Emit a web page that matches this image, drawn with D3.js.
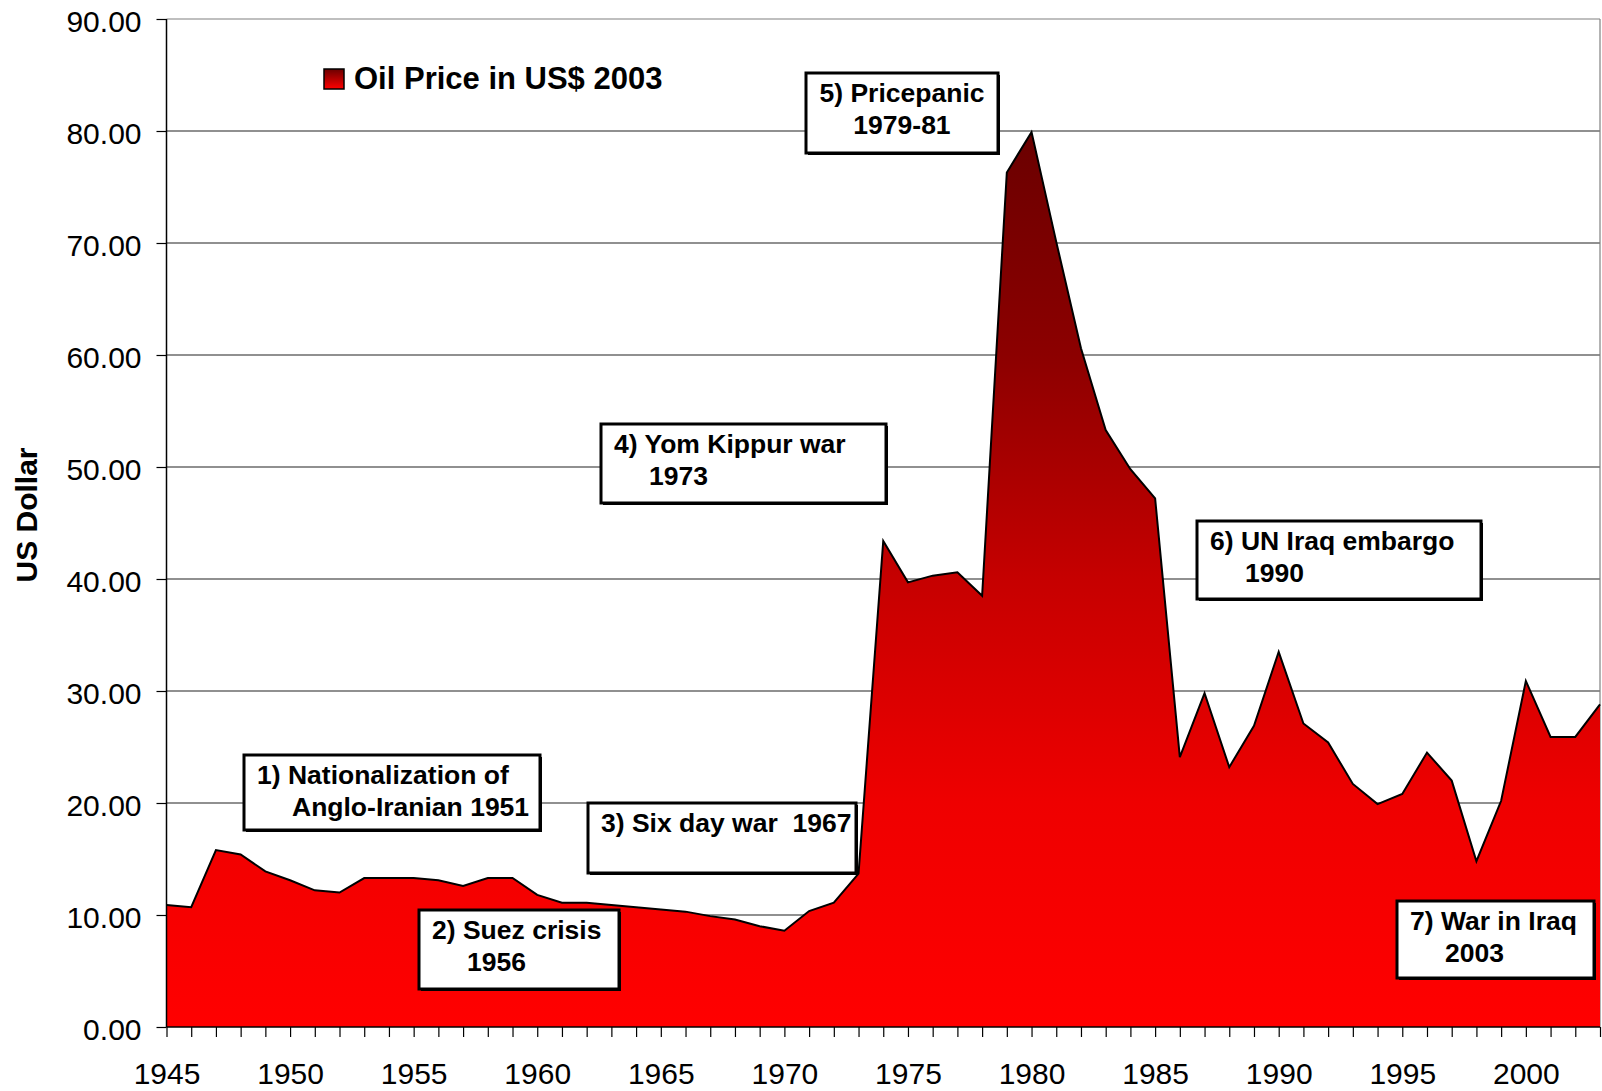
<!DOCTYPE html>
<html>
<head>
<meta charset="utf-8">
<script src="https://cdn.jsdelivr.net/npm/d3@7"></script>
<style>
  body { margin: 0; background: #fff; }
  svg { display: block; font-family: "Liberation Sans", Arial, sans-serif; }
  .note text { white-space: pre; }
</style>
</head>
<body>
<div id="chart"></div>
<script>
// oil price in 2003 US dollars, one value per year
var years = d3.range(1945, 2004);
var prices = [
  10.9, 10.7, 15.8, 15.4, 13.9, 13.1, 12.2, 12.0, 13.3, 13.3,
  13.3, 13.1, 12.6, 13.3, 13.3, 11.8, 11.1, 11.1, 10.9, 10.7,
  10.5, 10.3, 9.9, 9.6, 9.0, 8.6, 10.35, 11.1, 13.7, 43.4,
  39.7, 40.3, 40.6, 38.5, 76.3, 79.9, 70.1, 60.6, 53.3, 49.8,
  47.2, 24.1, 29.8, 23.2, 26.9, 33.5, 27.1, 25.4, 21.7, 19.9,
  20.8, 24.5, 22.0, 14.8, 20.2, 30.9, 25.9, 25.9, 28.8
];
var yTicks = [0, 10, 20, 30, 40, 50, 60, 70, 80, 90];
var seriesName = "Oil Price in US$ 2003";
var yTitle = "US Dollar";

var events = [
  ["1) Nationalization of", "Anglo-Iranian 1951"],
  ["2) Suez crisis", "1956"],
  ["3) Six day war  1967"],
  ["4) Yom Kippur war", "1973"],
  ["5) Pricepanic", "1979-81"],
  ["6) UN Iraq embargo", "1990"],
  ["7) War in Iraq", "2003"]
];

// where each text box sits on the page
var noteBoxes = [
  {x: 244, y: 755, w: 296, h: 75},
  {x: 419, y: 910, w: 200, h: 79},
  {x: 588, y: 803, w: 268, h: 70},
  {x: 601, y: 424, w: 285, h: 79},
  {x: 806, y: 73, w: 192, h: 80, center: true},
  {x: 1197, y: 521, w: 284, h: 78},
  {x: 1397, y: 901, w: 197, h: 77}
];

var svgWidth = 1602;
var svgHeight = 1091;

var plot = {left: 166.5, right: 1600, top: 19, bottom: 1027};

var svg = d3.select("#chart")
  .append("svg")
  .attr("width", svgWidth)
  .attr("height", svgHeight);

var x = d3.scaleLinear()
  .domain([1945, 2003])
  .range([plot.left, plot.right]);

var y = d3.scaleLinear()
  .domain([0, 90])
  .range([plot.bottom, plot.top]);

var data = years.map(function(yr, i) { return {year: yr, price: prices[i]}; });

// fill gradient, dark at the top, bright red near the axis
var defs = svg.append("defs");
var grad = defs.append("linearGradient")
  .attr("id", "oilFill")
  .attr("gradientUnits", "userSpaceOnUse")
  .attr("x1", 0).attr("x2", 0)
  .attr("y1", y(0)).attr("y2", y(80));
grad.append("stop").attr("offset", "0").attr("stop-color", "#ff0000");
grad.append("stop").attr("offset", "0.25").attr("stop-color", "#ef0000");
grad.append("stop").attr("offset", "0.5").attr("stop-color", "#c60000");
grad.append("stop").attr("offset", "0.75").attr("stop-color", "#8c0000");
grad.append("stop").attr("offset", "1").attr("stop-color", "#6a0000");

var legGrad = defs.append("linearGradient")
  .attr("id", "legFill")
  .attr("x1", 0).attr("x2", 0).attr("y1", 0).attr("y2", 1);
legGrad.append("stop").attr("offset", "0").attr("stop-color", "#6a0000");
legGrad.append("stop").attr("offset", "1").attr("stop-color", "#ff0000");

// gridlines
svg.append("g")
  .selectAll("line")
  .data(yTicks.filter(function(t) { return t > 0; }))
  .enter()
  .append("line")
  .attr("x1", plot.left)
  .attr("x2", plot.right)
  .attr("y1", function(d) { return y(d); })
  .attr("y2", function(d) { return y(d); })
  .attr("stroke", function(d) { return d === 90 ? "#808080" : "#222"; })
  .attr("stroke-width", 1.2);

// right border of the plot area
svg.append("line")
  .attr("x1", plot.right).attr("x2", plot.right)
  .attr("y1", plot.top).attr("y2", plot.bottom)
  .attr("stroke", "#808080")
  .attr("stroke-width", 1.2);

var area = d3.area()
  .x(function(d) { return x(d.year); })
  .y0(y(0))
  .y1(function(d) { return y(d.price); });

var line = d3.line()
  .x(function(d) { return x(d.year); })
  .y(function(d) { return y(d.price); });

svg.append("path")
  .datum(data)
  .attr("d", area)
  .attr("fill", "url(#oilFill)");

svg.append("path")
  .datum(data)
  .attr("d", line)
  .attr("fill", "none")
  .attr("stroke", "#000")
  .attr("stroke-width", 2)
  .attr("stroke-linejoin", "miter");

// axes
var bottomAxis = d3.axisBottom(x)
  .tickValues(years)
  .tickSize(10)
  .tickPadding(26)
  .tickFormat(function(d) { return d % 5 === 0 ? d : ""; });

var leftAxis = d3.axisLeft(y)
  .tickValues(yTicks)
  .tickSize(10)
  .tickPadding(15)
  .tickFormat(d3.format(".2f"));

var xAxis = svg.append("g")
  .attr("transform", `translate(0, ${plot.bottom})`)
  .call(bottomAxis);

var yAxis = svg.append("g")
  .attr("transform", `translate(${plot.left}, 0)`)
  .call(leftAxis);

[xAxis, yAxis].forEach(function(g) {
  g.select(".domain").attr("stroke", "#000").attr("stroke-width", 1.5);
  g.selectAll(".tick line").attr("stroke", "#000").attr("stroke-width", 1.2);
  g.selectAll(".tick text")
    .attr("fill", "#000")
    .attr("font-size", "30px")
    .attr("font-family", "'Liberation Sans', Arial, sans-serif");
});
yAxis.selectAll(".tick text").attr("dy", "0.4em");
// the domain path of axisBottom has outer ticks, redraw as plain line
xAxis.select(".domain").attr("d", `M${plot.left},0H${plot.right}`);
yAxis.select(".domain").attr("d", `M0,${plot.top}V${plot.bottom}`);

// y title
svg.append("text")
  .attr("transform", `translate(37, ${515}) rotate(-90)`)
  .attr("text-anchor", "middle")
  .attr("font-size", "30px")
  .attr("font-weight", "bold")
  .text(yTitle);

// legend
svg.append("rect")
  .attr("x", 324).attr("y", 69)
  .attr("width", 20).attr("height", 20)
  .attr("fill", "url(#legFill)")
  .attr("stroke", "#000")
  .attr("stroke-width", 1.5);

svg.append("text")
  .attr("x", 354).attr("y", 89)
  .attr("font-size", "31px")
  .attr("font-weight", "bold")
  .text(seriesName);

// event boxes
var notes = svg.selectAll(".note")
  .data(events)
  .enter()
  .append("g")
  .attr("class", "note")
  .attr("transform", function(d, i) {
    return `translate(${noteBoxes[i].x}, ${noteBoxes[i].y})`;
  });

notes.append("rect")
  .attr("x", 2).attr("y", 2)
  .attr("width", function(d, i) { return noteBoxes[i].w; })
  .attr("height", function(d, i) { return noteBoxes[i].h; })
  .attr("fill", "#000");

notes.append("rect")
  .attr("width", function(d, i) { return noteBoxes[i].w; })
  .attr("height", function(d, i) { return noteBoxes[i].h; })
  .attr("fill", "#fff")
  .attr("stroke", "#000")
  .attr("stroke-width", 3);

notes.each(function(d, i) {
  var box = noteBoxes[i];
  var g = d3.select(this);
  d.forEach(function(txt, j) {
    g.append("text")
      .attr("x", box.center ? box.w / 2 : (j === 0 ? 13 : 48))
      .attr("y", j === 0 ? 29 : 61)
      .attr("text-anchor", box.center ? "middle" : "start")
      .attr("font-size", "26.5px")
      .attr("font-weight", "bold")
      .text(txt);
  });
});
</script>
</body>
</html>
